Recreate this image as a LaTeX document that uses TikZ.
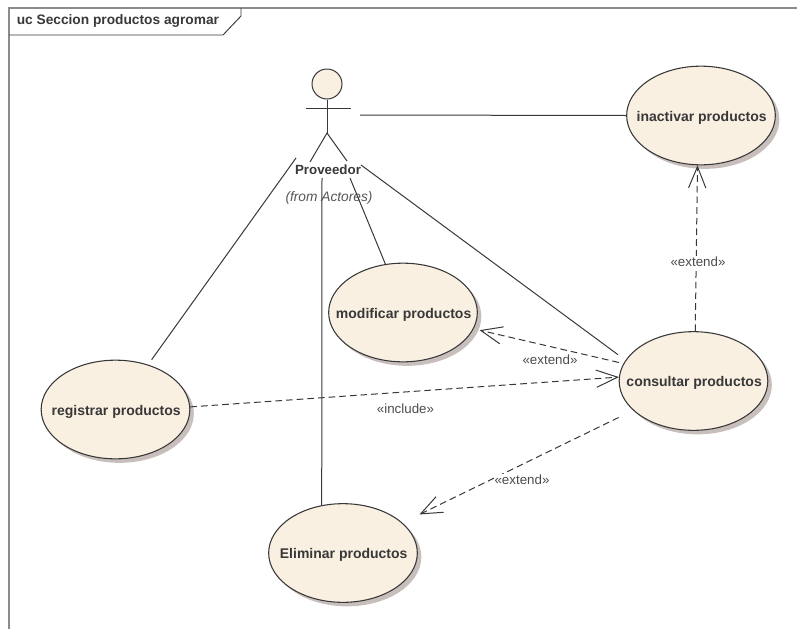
\documentclass[tikz,border=0pt]{standalone}
\usepackage{fontspec}
\setmainfont{Liberation Sans}
\usepackage{tikz}
\usetikzlibrary{arrows.meta}
\usetikzlibrary{positioning}
\usetikzlibrary{shapes.geometric}
\usetikzlibrary{shadows}
\definecolor{usecasefill}{HTML}{F9F0E2}
\definecolor{usecaseshadow}{HTML}{C8BFBD}
\definecolor{inkgray}{HTML}{383838}
\newcommand{\caso}[1]{\makebox[0pt][c]{\hspace{1pt}\raisebox{-4.3pt}[0pt][0pt]{#1}}}
\tikzset{usecase/.style = {ellipse, draw=inkgray, line width=0.8pt, fill=usecasefill,
                           minimum width=111.5pt, minimum height=74pt, inner sep=0pt,
                           text=inkgray, font=\fontsize{10.5}{12}\selectfont\bfseries,
                           general shadow={shadow xshift=3pt, shadow yshift=-3pt,
                                           fill=usecaseshadow}},
         assoc/.style = {draw=inkgray, line width=0.75pt},
         depend/.style = {draw=inkgray, line width=0.75pt, dashed, dash pattern=on 5pt off 3pt,
                          -{Straight Barb[length=16pt,width=13pt,line width=0.75pt]}},
         stereo/.style = {text=inkgray!90, font=\fontsize{10}{12}\selectfont, inner sep=0.5pt, fill=white}}

\begin{document}
\begin{tikzpicture}[x=0.75pt,y=-0.75pt]
  \useasboundingbox (0,0) rectangle (797,629);

  % frame
  \draw[draw=gray!110!black, line width=0.8pt] (9,629)--(9,8)--(797,8);
  \draw[draw=inkgray, line width=0.7pt] (9,35)--(223,35)--(241,16)--(241,8);
  \node[anchor=west, inner sep=0pt, text=inkgray, font=\fontsize{10.3}{12}\selectfont\bfseries]
    (titulo) at (16.5,21) {uc Seccion productos agromar};

  % casos de uso
  \node[usecase] (inactivar) at (701,115.5) {\caso{inactivar productos}};
  \node[usecase] (modificar) at (403,312.5) {\caso{modificar productos}};
  \node[usecase] (consultar) at (693.5,381) {\caso{consultar productos}};
  \node[usecase] (registrar) at (115.5,409.5) {\caso{registrar productos}};
  \node[usecase] (eliminar) at (343,553) {\caso{Eliminar productos}};

  % actor
  \node[circle, draw=inkgray, line width=0.75pt, fill=usecasefill, minimum size=22.5pt, inner sep=0pt]
    (cabeza) at (327,84) {};
  \coordinate (cadera) at (327,133);
  \draw[assoc] (cabeza.south)--(cadera);
  \draw[assoc] (306,108)--(351,108);
  \draw[assoc] (310,162)--(cadera)--(347,161);
  \node[text=inkgray, inner sep=0pt, font=\fontsize{10}{12}\selectfont\bfseries]
    (proveedor) at (328,170) {Proveedor};
  \node[text=inkgray!85, inner sep=0pt, font=\fontsize{10.3}{12}\selectfont\itshape]
    (desde) at (329,198) {(from Actores)};

  \coordinate (actorE) at (360,115);
  \coordinate (actorSO) at (296,158);
  \coordinate (actorS) at (322,178);
  \coordinate (actorSE) at (350,178);
  \coordinate (actorD) at (361,165);

  % asociaciones
  \draw[assoc] (actorE)--(inactivar.west);
  \draw[assoc, shorten >=4.5pt] (actorSO)--(registrar.54);
  \draw[assoc] (actorS)--(eliminar.114);
  \draw[assoc] (actorSE)--(modificar.110.6);
  \draw[assoc, shorten >=7pt] (actorD)--(consultar.163);

  % dependencias
  \draw[depend] (consultar.88.6)--(inactivar.266.5);
  \draw[depend, shorten <=3.5pt, shorten >=4.5pt] (consultar.166.3)--(modificar.347.1);
  \draw[depend] (registrar.2.7)--(consultar.177);
  \draw[depend, shorten <=12pt, shorten >=14.2pt] (consultar.206)--(eliminar.27.3);

  \node[stereo] (extendA) at (698,262) {«extend»};
  \node[stereo] (extendB) at (550,360) {«extend»};
  \node[stereo] (incluye) at (405.5,409) {«include»};
  \node[stereo] (extendC) at (522,480) {«extend»};
\end{tikzpicture}
\end{document}
